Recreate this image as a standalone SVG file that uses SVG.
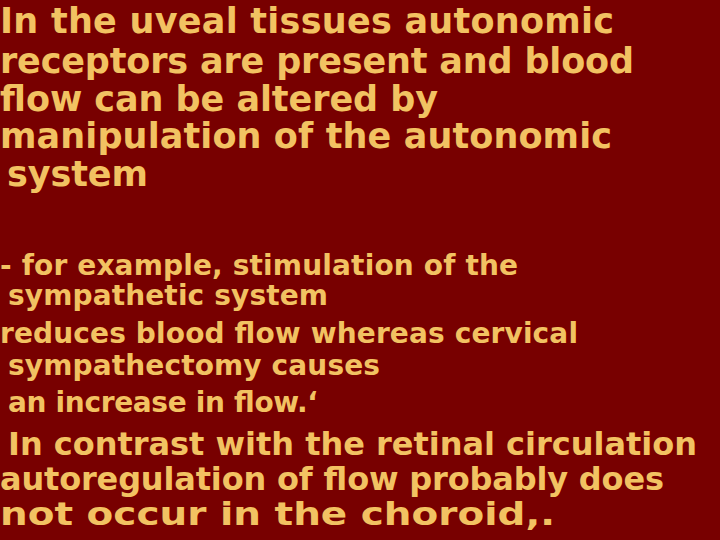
<svg xmlns="http://www.w3.org/2000/svg" width="720" height="540" viewBox="0 0 720 540">
<style>
text{font-family:"DejaVu Sans",Verdana,sans-serif;font-weight:bold;fill:#f2c262}
.a{font-size:35px}.b{font-size:28px}.c{font-size:32px}
</style>
<rect width="720" height="540" fill="#780000"/>
<g id="block1">
<text class="a" x="0" y="33" textLength="614">In the uveal tissues autonomic</text>
<text class="a" x="0" y="73" textLength="634">receptors are present and blood</text>
<text class="a" x="0" y="111" textLength="438">flow can be altered by</text>
<text class="a" x="0" y="148" textLength="612">manipulation of the autonomic</text>
<text class="a" x="7" y="186" textLength="141">system</text>
</g>
<g id="block2">
<text class="b" x="0" y="275" textLength="518">- for example, stimulation of the</text>
<text class="b" x="8" y="305" textLength="320">sympathetic system</text>
<text class="b" x="0" y="343" textLength="578">reduces blood flow whereas cervical</text>
<text class="b" x="8" y="375" textLength="372">sympathectomy causes</text>
<text class="b" x="8" y="412" textLength="310">an increase in flow.‘</text>
</g>
<g id="block3">
<text class="c" x="8" y="455" textLength="689">In contrast with the retinal circulation</text>
<text class="c" x="0" y="490" textLength="664">autoregulation of flow probably does</text>
<text class="c" x="0" y="525" textLength="555" lengthAdjust="spacingAndGlyphs">not occur in the choroid,.</text>
</g>
</svg>
